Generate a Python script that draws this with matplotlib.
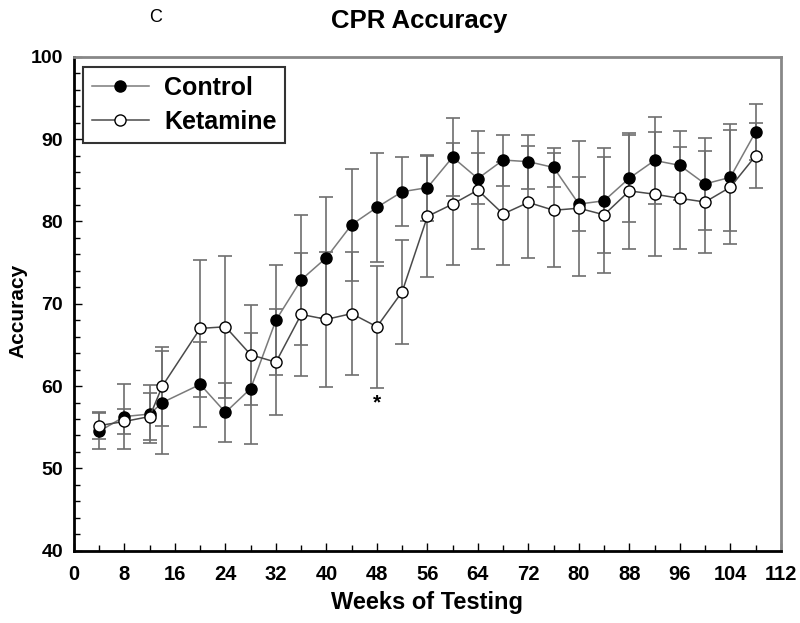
import matplotlib
matplotlib.use("Agg")
import matplotlib.pyplot as plt
from matplotlib.ticker import MultipleLocator

plt.rcParams['font.family'] = ['Liberation Sans', 'DejaVu Sans']

# data (weeks of testing, mean accuracy, error)
weeks = [4, 8, 12, 14, 20, 24, 28, 32, 36, 40, 44, 48, 52, 56, 60, 64, 68, 72,
         76, 80, 84, 88, 92, 96, 100, 104, 108]

control = [54.5, 56.3, 56.6, 58.0, 60.2, 56.8, 59.7, 68.0, 72.9, 75.6, 79.6, 81.7,
           83.6, 84.1, 87.8, 85.2, 87.45, 87.25, 86.55, 82.1, 82.5, 85.25, 87.4,
           86.8, 84.55, 85.35, 90.85]
control_err = [2.2, 3.9, 3.5, 6.3, 5.2, 3.6, 6.7, 6.7, 7.9, 7.3, 6.8, 6.6, 4.2, 4.0,
               4.7, 3.15, 3.1, 3.3, 2.4, 3.3, 6.4, 5.3, 5.3, 4.2, 5.6, 6.5, 3.45]

ketamine = [55.2, 55.7, 56.3, 60.0, 67.0, 67.2, 63.8, 62.9, 68.7, 68.1, 68.8, 67.2,
            71.45, 80.6, 82.1, 83.8, 80.9, 82.3, 81.35, 81.6, 80.8, 83.7, 83.3,
            82.8, 82.35, 84.15, 87.95]
ketamine_err = [1.6, 1.5, 2.8, 4.8, 8.3, 8.6, 6.1, 6.45, 7.5, 8.2, 7.5, 7.4, 6.3, 7.3,
                7.4, 7.15, 6.25, 6.8, 6.9, 8.2, 7.05, 7.0, 7.5, 6.2, 6.2, 6.9, 3.95]

star_week = 48
star_y = 57.9

fig = plt.figure(figsize=(8, 6.23), dpi=100)
ax = fig.add_axes([0.0925, 0.116, 0.8835, 0.793])

# error bars first so markers sit on top
ax.errorbar(weeks, control, yerr=control_err, fmt='none', ecolor='#6e6e6e',
            elinewidth=1.2, capsize=4.7, capthick=1.2, zorder=1)
ax.errorbar(weeks, ketamine, yerr=ketamine_err, fmt='none', ecolor='#6e6e6e',
            elinewidth=1.2, capsize=4.7, capthick=1.2, zorder=1)

ax.plot(weeks, control, '-o', color='#7a7a7a', lw=1.1, markersize=8,
        markerfacecolor='black', markeredgecolor='black', label='Control', zorder=3)
ax.plot(weeks, ketamine, '-o', color='#4a4a4a', lw=1.1, markersize=8,
        markerfacecolor='white', markeredgecolor='black', markeredgewidth=1.0,
        label='Ketamine', zorder=3)

ax.text(star_week, star_y, '*', ha='center', va='center', fontsize=15, fontweight='bold')

ax.set_xlim(0, 112)
ax.set_ylim(40, 100)
ax.xaxis.set_major_locator(MultipleLocator(8))
ax.xaxis.set_minor_locator(MultipleLocator(4))
ax.yaxis.set_major_locator(MultipleLocator(10))
ax.yaxis.set_minor_locator(MultipleLocator(2))
ax.tick_params(which='both', direction='in', top=False, right=False, width=1)
ax.tick_params(which='major', length=6)
ax.tick_params(which='minor', length=4)
ax.tick_params(axis='x', which='major', pad=10)
ax.tick_params(axis='y', which='major', pad=8)
for lab in ax.get_xticklabels():
    lab.set_fontsize(14.5)
    lab.set_fontweight('bold')
for lab in ax.get_yticklabels():
    lab.set_fontsize(14)
    lab.set_fontweight('bold')

ax.spines['left'].set_linewidth(2)
ax.spines['bottom'].set_linewidth(2)
ax.spines['top'].set_color('#888888')
ax.spines['right'].set_color('#888888')
ax.spines['top'].set_linewidth(2)
ax.spines['right'].set_linewidth(2)

ax.set_xlabel('Weeks of Testing', fontsize=17, fontweight='bold', labelpad=5)
ax.set_ylabel('Accuracy', fontsize=15, fontweight='bold')
ax.yaxis.set_label_coords(-0.066, 0.485)

fig.text(0.524, 0.966, 'CPR Accuracy', ha='center', va='center', fontsize=18.5, fontweight='bold')
fig.text(0.195, 0.972, 'C', ha='center', va='center', fontsize=13)

leg = ax.legend(loc='upper left', bbox_to_anchor=(0.0125, 0.979),
                prop={'weight': 'bold', 'size': 18}, frameon=True, fancybox=False,
                handlelength=2.3, borderpad=0.35, labelspacing=0.4, handletextpad=0.6,
                borderaxespad=0)
leg.get_frame().set_edgecolor('black')
leg.get_frame().set_linewidth(1.5)

fig.savefig('out.png', dpi=100)
